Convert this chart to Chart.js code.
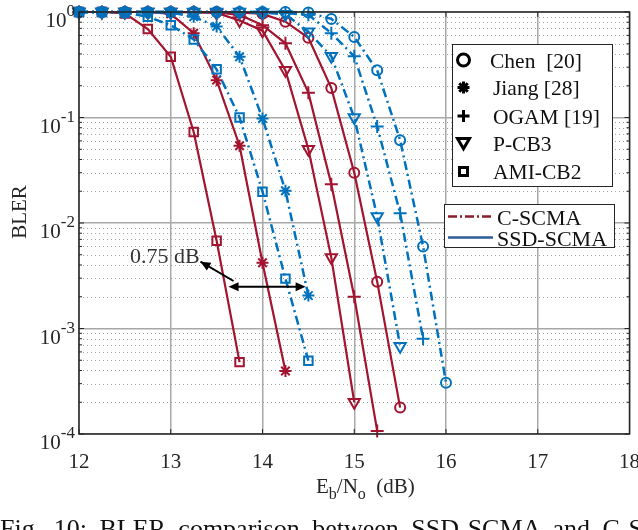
<!DOCTYPE html>
<html>
<head>
<meta charset="utf-8">
<script src="https://cdn.jsdelivr.net/npm/chart.js@4.4.1/dist/chart.umd.min.js"></script>
<style>
  html, body { margin: 0; padding: 0; background: #fff; overflow: hidden; }
  #wrap { position: relative; width: 638px; height: 530px; overflow: hidden; }
  #bler { display: block; }
  #caption {
    position: absolute; left: 0; top: 514px;
    font: 26px "Liberation Serif", serif; line-height: 30px;
    word-spacing: 6px; white-space: nowrap; color: #111;
  }
</style>
</head>
<body>
<div id="wrap">
  <canvas id="bler" width="638" height="530" style="width:638px;height:530px"></canvas>
  <div id="caption">Fig. 10: BLER comparison between SSD-SCMA and C-SCMA</div>
</div>
<script>
// Eb/No grid (dB), every series starts at 12 dB
const ebno = [12, 12.25, 12.5, 12.75, 13, 13.25, 13.5, 13.75, 14, 14.25, 14.5, 14.75, 15, 15.25, 15.5, 15.75, 16];

const codebooks = ["Chen  [20]", "Jiang [28]", "OGAM [19]", "P-CB3", "AMI-CB2"];

// C-SCMA (red, solid)
const cChen  = [1, 1, 1, 1, 1, 1, 1, 0.99, 0.96, 0.81, 0.57, 0.19, 0.03, 0.00278, 1.78e-4];
const cJiang = [1, 1, 1, 1, 0.96, 0.63, 0.226, 0.054, 0.0042, 3.95e-4];
const cOgam  = [1, 1, 1, 1, 1, 1, 0.99, 0.94, 0.75, 0.505, 0.172, 0.0233, 0.002, 1.07e-4];
const cPcb3  = [1, 1, 1, 1, 1, 0.99, 0.98, 0.83, 0.665, 0.28, 0.05, 0.0047, 2.0e-4];
const cAmi   = [1, 1, 0.97, 0.69, 0.377, 0.073, 0.0068, 4.8e-4];

// SSD-SCMA (blue, dash-dot)
const sChen  = [1, 1, 1, 1, 1, 1, 1, 1, 1, 1, 0.99, 0.86, 0.58, 0.28, 0.061, 0.006, 3.06e-4];
const sJiang = [1, 1, 1, 1, 0.99, 0.9, 0.73, 0.377, 0.098, 0.0202, 0.00205];
const sOgam  = [1, 1, 1, 1, 1, 1, 1, 1, 1, 0.98, 0.94, 0.63, 0.38, 0.082, 0.0124, 8.0e-4];
const sPcb3  = [1, 1, 1, 1, 1, 1, 1, 1, 0.99, 0.95, 0.65, 0.38, 0.1, 0.0115, 6.8e-4];
const sAmi   = [1, 1, 0.99, 0.9, 0.75, 0.55, 0.286, 0.1, 0.0198, 0.00297, 4.95e-4];

const xTicks = [12, 13, 14, 15, 16, 17, 18];
const yExps  = [0, -1, -2, -3, -4];

const RED = "#a2142f";
const BLUE = "#0072bd";
const FONT = '"Liberation Serif", serif';

const markers = [
  {style: "circle",   radius: 5,   rot: 0},
  {style: "star",     radius: 6,   rot: 0},
  {style: "cross",    radius: 6.5, rot: 0},
  {style: "triangle", radius: 6.5, rot: 180},
  {style: "rect",     radius: 6,   rot: 0}
];

function toPoints(vals) {
  return vals.map(function(v, i) { return {x: ebno[i], y: v}; });
}

function makeSet(name, vals, k, color, dash, width) {
  return {
    label: name,
    data: toPoints(vals),
    borderColor: color,
    borderWidth: width,
    borderDash: dash,
    pointStyle: markers[k].style,
    pointRadius: markers[k].radius,
    pointRotation: markers[k].rot,
    pointBorderColor: color,
    pointBackgroundColor: "rgba(0,0,0,0)",
    pointBorderWidth: 2,
    tension: 0,
    clip: false
  };
}

const dashDot = [9, 4, 2, 4];
// blue sets first so they are drawn on top
const datasets = [
  makeSet("SSD Chen",  sChen,  0, BLUE, dashDot, 2.5),
  makeSet("SSD Jiang", sJiang, 1, BLUE, dashDot, 2.5),
  makeSet("SSD OGAM",  sOgam,  2, BLUE, dashDot, 2.5),
  makeSet("SSD P-CB3", sPcb3,  3, BLUE, dashDot, 2.5),
  makeSet("SSD AMI",   sAmi,   4, BLUE, dashDot, 2.5),
  makeSet("C Chen",    cChen,  0, RED, [], 2.2),
  makeSet("C Jiang",   cJiang, 1, RED, [], 2.2),
  makeSet("C OGAM",    cOgam,  2, RED, [], 2.2),
  makeSet("C P-CB3",   cPcb3,  3, RED, [], 2.2),
  makeSet("C AMI",     cAmi,   4, RED, [], 2.2)
];

function drawMarker(ctx, k, x, y, r) {
  const m = markers[k].style;
  ctx.beginPath();
  if (m === "circle") {
    ctx.arc(x, y, r, 0, Math.PI * 2);
  } else if (m === "star") {
    for (let a = 0; a < 4; a++) {
      const t = a * Math.PI / 4;
      ctx.moveTo(x - Math.cos(t) * r, y - Math.sin(t) * r);
      ctx.lineTo(x + Math.cos(t) * r, y + Math.sin(t) * r);
    }
  } else if (m === "cross") {
    ctx.moveTo(x - r, y); ctx.lineTo(x + r, y);
    ctx.moveTo(x, y - r); ctx.lineTo(x, y + r);
  } else if (m === "triangle") {
    ctx.moveTo(x - r, y - r * 0.75);
    ctx.lineTo(x + r, y - r * 0.75);
    ctx.lineTo(x, y + r * 0.95);
    ctx.closePath();
  } else {
    ctx.rect(x - r * 0.8, y - r * 0.8, r * 1.6, r * 1.6);
  }
  ctx.stroke();
}

function arrowHead(ctx, x0, y0, x1, y1) {
  const a = Math.atan2(y1 - y0, x1 - x0);
  const L = 10, W = 4.5;
  ctx.beginPath();
  ctx.moveTo(x1, y1);
  ctx.lineTo(x1 - L * Math.cos(a) + W * Math.sin(a), y1 - L * Math.sin(a) - W * Math.cos(a));
  ctx.lineTo(x1 - L * Math.cos(a) - W * Math.sin(a), y1 - L * Math.sin(a) + W * Math.cos(a));
  ctx.closePath();
  ctx.fill();
}

const decor = {
  id: "decor",
  beforeDatasetsDraw(chart) {
    const ctx = chart.ctx, a = chart.chartArea, ys = chart.scales.y;
    ctx.save();
    // minor dotted grid
    ctx.strokeStyle = "#a3a3a3";
    ctx.lineWidth = 1;
    ctx.setLineDash([1, 3]);
    for (let e = -4; e < 0; e++) {
      for (let m = 2; m <= 9; m++) {
        const y = Math.round(ys.getPixelForValue(m * Math.pow(10, e))) + 0.5;
        ctx.beginPath(); ctx.moveTo(a.left, y); ctx.lineTo(a.right, y); ctx.stroke();
      }
    }
    ctx.restore();
  },
  afterDatasetsDraw(chart) {
    const ctx = chart.ctx, a = chart.chartArea, xs = chart.scales.x, ys = chart.scales.y;
    ctx.save();
    ctx.setLineDash([]);
    // axes box and inward ticks
    ctx.strokeStyle = "#262626";
    ctx.lineWidth = 1.5;
    ctx.strokeRect(a.left, a.top, a.right - a.left, a.bottom - a.top);
    ctx.lineWidth = 1;
    ctx.beginPath();
    xTicks.forEach(function(t) {
      const x = xs.getPixelForValue(t);
      ctx.moveTo(x, a.bottom); ctx.lineTo(x, a.bottom - 5);
      ctx.moveTo(x, a.top); ctx.lineTo(x, a.top + 5);
    });
    for (let e = -4; e <= 0; e++) {
      for (let m = 1; m <= 9; m++) {
        if (e === 0 && m > 1) break;
        const y = ys.getPixelForValue(m * Math.pow(10, e));
        const len = m === 1 ? 5 : 3;
        ctx.moveTo(a.left, y); ctx.lineTo(a.left + len, y);
        ctx.moveTo(a.right, y); ctx.lineTo(a.right - len, y);
      }
    }
    ctx.stroke();

    // tick labels
    ctx.fillStyle = "#262626";
    ctx.textBaseline = "alphabetic";
    ctx.textAlign = "center";
    ctx.font = "21px " + FONT;
    xTicks.forEach(function(t) {
      ctx.fillText(String(t), xs.getPixelForValue(t), 468);
    });
    ctx.textAlign = "left";
    yExps.forEach(function(e) {
      const y = ys.getPixelForValue(Math.pow(10, e));
      const ex = String(e);
      ctx.font = "17px " + FONT;
      const ew = ctx.measureText(ex).width;
      ctx.font = "21px " + FONT;
      const bw = ctx.measureText("10").width;
      const right = a.left - 4;
      ctx.fillText("10", right - ew - bw, y + 15);
      ctx.font = "17px " + FONT;
      ctx.fillText(ex, right - ew, y + 4);
    });

    // axis titles
    let x = 316;
    const base = 493;
    const parts = [["E", 21, 0], ["b", 16, 6], ["/N", 21, 0], ["o", 16, 6], ["  (dB)", 21, 0]];
    parts.forEach(function(p) {
      ctx.font = p[1] + "px " + FONT;
      ctx.fillText(p[0], x, base + p[2]);
      x += ctx.measureText(p[0]).width;
    });
    ctx.save();
    ctx.translate(26, 212);
    ctx.rotate(-Math.PI / 2);
    ctx.textAlign = "center";
    ctx.font = "21px " + FONT;
    ctx.fillText("BLER", 0, 0);
    ctx.restore();

    // annotation
    ctx.strokeStyle = "#000";
    ctx.fillStyle = "#000";
    ctx.lineWidth = 2;
    const tx = xs.getPixelForValue(13.684), ty = ys.getPixelForValue(0.00282);
    const hx = xs.getPixelForValue(13.324), hy = ys.getPixelForValue(0.0043);
    ctx.beginPath(); ctx.moveTo(tx, ty); ctx.lineTo(hx, hy); ctx.stroke();
    arrowHead(ctx, tx, ty, hx, hy);
    const ax0 = xs.getPixelForValue(13.63), ax1 = xs.getPixelForValue(14.47), ay = ys.getPixelForValue(0.00249);
    ctx.beginPath(); ctx.moveTo(ax0 + 6, ay); ctx.lineTo(ax1 - 6, ay); ctx.stroke();
    arrowHead(ctx, ax1, ay, ax0, ay);
    arrowHead(ctx, ax0, ay, ax1, ay);
    ctx.fillStyle = "#333";
    ctx.font = "22px " + FONT;
    ctx.fillText("0.75 dB", 130, 263);

    // marker legend
    ctx.fillStyle = "#fff";
    ctx.fillRect(452, 44, 160, 142);
    ctx.strokeStyle = "#262626";
    ctx.lineWidth = 1;
    ctx.strokeRect(452.5, 44.5, 160, 142);
    const rowsY = [60, 87.5, 116, 143, 171.5];
    ctx.fillStyle = "#111";
    ctx.font = "21.5px " + FONT;
    codebooks.forEach(function(name, k) {
      ctx.strokeStyle = "#000";
      ctx.lineWidth = 3;
      drawMarker(ctx, k, 463.5, rowsY[k], k === 4 ? 5 : 6);
      ctx.fillText(name, k === 0 ? 490 : 493, rowsY[k] + 7.5);
    });

    // line legend
    ctx.fillStyle = "#fff";
    ctx.fillRect(444, 204, 170, 43);
    ctx.strokeStyle = "#262626";
    ctx.lineWidth = 1;
    ctx.strokeRect(444.5, 204.5, 170, 43);
    ctx.lineWidth = 2.5;
    ctx.strokeStyle = "#8c1c2c";
    ctx.setLineDash([9, 3, 2, 3]);
    ctx.beginPath(); ctx.moveTo(448, 216.5); ctx.lineTo(493, 216.5); ctx.stroke();
    ctx.setLineDash([]);
    ctx.strokeStyle = "#2d5d9a";
    ctx.beginPath(); ctx.moveTo(448, 237.5); ctx.lineTo(493, 237.5); ctx.stroke();
    ctx.fillStyle = "#111";
    ctx.font = "22px " + FONT;
    ctx.fillText("C-SCMA", 497, 224.5);
    ctx.fillText("SSD-SCMA", 497, 245.5);
    ctx.restore();
  }
};

new Chart(document.getElementById("bler"), {
  type: "line",
  data: {datasets: datasets},
  options: {
    responsive: false,
    animation: false,
    layout: {padding: {left: 79, right: 4, top: 12, bottom: 96}},
    plugins: {legend: {display: false}, tooltip: {enabled: false}},
    scales: {
      x: {
        type: "linear",
        min: 12,
        max: 18,
        afterBuildTicks: function(scale) {
          scale.ticks = xTicks.map(function(v) { return {value: v}; });
        },
        ticks: {display: false},
        grid: {color: "#a8a8a8", lineWidth: 1.5, drawTicks: false},
        border: {display: false}
      },
      y: {
        type: "logarithmic",
        min: 1e-4,
        max: 1,
        afterBuildTicks: function(scale) {
          scale.ticks = yExps.map(function(e) { return {value: Math.pow(10, e)}; });
        },
        ticks: {display: false},
        grid: {color: "#a8a8a8", lineWidth: 1.5, drawTicks: false},
        border: {display: false}
      }
    }
  },
  plugins: [decor]
});
</script>
</body>
</html>
